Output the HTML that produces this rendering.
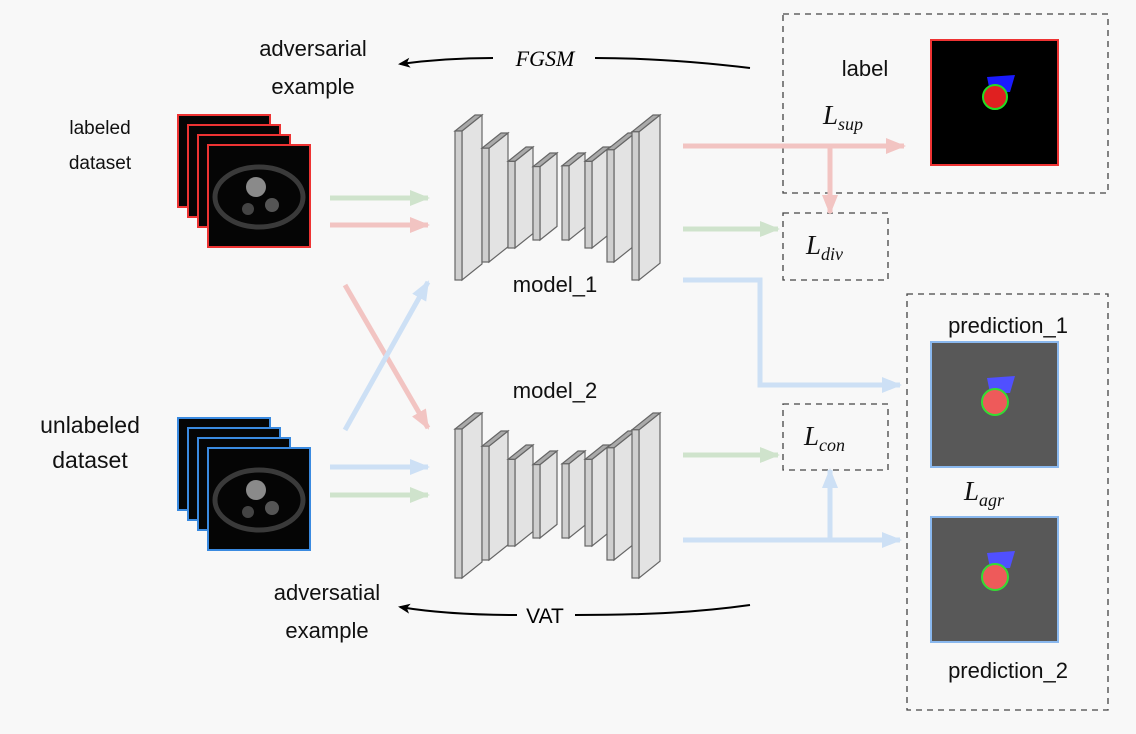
<!DOCTYPE html>
<html><head><meta charset="utf-8"><style>
body{margin:0;background:#f8f8f8;}
svg{display:block;font-family:"Liberation Sans",sans-serif;}
</style></head><body>
<svg id="s" width="1136" height="734" viewBox="0 0 1136 734" xmlns="http://www.w3.org/2000/svg">
<defs>
<marker id="ag" markerWidth="22" markerHeight="22" refX="18" refY="11" orient="auto" markerUnits="userSpaceOnUse" viewBox="0 0 22 22"><path d="M0,3 L20,11 L0,19 z" fill="#cfe3cc"/></marker>
<marker id="ar" markerWidth="22" markerHeight="22" refX="18" refY="11" orient="auto" markerUnits="userSpaceOnUse" viewBox="0 0 22 22"><path d="M0,3 L20,11 L0,19 z" fill="#f2c4c2"/></marker>
<marker id="ab" markerWidth="22" markerHeight="22" refX="18" refY="11" orient="auto" markerUnits="userSpaceOnUse" viewBox="0 0 22 22"><path d="M0,3 L20,11 L0,19 z" fill="#cde0f5"/></marker>
<marker id="ak" markerWidth="12" markerHeight="12" refX="10" refY="6" orient="auto" markerUnits="userSpaceOnUse" viewBox="0 0 12 12"><path d="M0,1 L12,6 L0,11 L3,6 z" fill="#000"/></marker>
</defs>
<rect width="1136" height="734" fill="#f8f8f8"/>

<g fill="none" stroke="#444" stroke-width="1.3" stroke-dasharray="6,5">
<rect x="783" y="14" width="325" height="179"/>
<rect x="783" y="213" width="105" height="67"/>
<rect x="783" y="404" width="105" height="66"/>
<rect x="907" y="294" width="201" height="416"/>
</g>

<g stroke-width="5" fill="none">
<line x1="330" y1="198" x2="428" y2="198" stroke="#cfe3cc" marker-end="url(#ag)"/>
<line x1="330" y1="225" x2="428" y2="225" stroke="#f2c4c2" marker-end="url(#ar)"/>
<line x1="330" y1="467" x2="428" y2="467" stroke="#cde0f5" marker-end="url(#ab)"/>
<line x1="330" y1="495" x2="428" y2="495" stroke="#cfe3cc" marker-end="url(#ag)"/>
<line x1="345" y1="285" x2="428" y2="428" stroke="#f2c4c2" marker-end="url(#ar)"/>
<line x1="345" y1="430" x2="428" y2="282" stroke="#cde0f5" marker-end="url(#ab)"/>
<line x1="683" y1="146" x2="904" y2="146" stroke="#f2c4c2" marker-end="url(#ar)"/>
<line x1="830" y1="146" x2="830" y2="213" stroke="#f2c4c2" marker-end="url(#ar)"/>
<line x1="683" y1="229" x2="778" y2="229" stroke="#cfe3cc" marker-end="url(#ag)"/>
<polyline points="683,280 760,280 760,385 900,385" stroke="#cde0f5" marker-end="url(#ab)"/>
<line x1="683" y1="455" x2="778" y2="455" stroke="#cfe3cc" marker-end="url(#ag)"/>
<line x1="683" y1="540" x2="900" y2="540" stroke="#cde0f5" marker-end="url(#ab)"/>
<line x1="830" y1="540" x2="830" y2="470" stroke="#cde0f5" marker-end="url(#ab)"/>
</g>

<path d="M750,68 C700,62 650,58 595,58 M493,58 C460,58 430,60 400,64" stroke="#000" stroke-width="2" fill="none" marker-end="url(#ak)"/>
<path d="M750,605 C700,612 650,615 575,615 M517,615 C470,615 430,612 400,607" stroke="#000" stroke-width="2" fill="none" marker-end="url(#ak)"/>
<text x="545" y="66" font-family="Liberation Serif,serif" font-style="italic" font-size="22" text-anchor="middle">FGSM</text>
<text x="545" y="623" font-size="21" text-anchor="middle">VAT</text>

<g font-size="22" fill="#111" text-anchor="middle">
<text x="313" y="56">adversarial</text>
<text x="313" y="94">example</text>
<text x="327" y="600">adversatial</text>
<text x="327" y="638">example</text>
<text x="555" y="292">model_1</text>
<text x="555" y="398">model_2</text>
<text x="1008" y="333">prediction_1</text>
<text x="1008" y="678">prediction_2</text>
<text x="865" y="76">label</text>
<text x="90" y="433" font-size="23">unlabeled</text>
<text x="90" y="468" font-size="23">dataset</text>
<text x="100" y="134" font-size="19">labeled</text>
<text x="100" y="169" font-size="19">dataset</text>
</g>
<g font-family="Liberation Serif,serif" font-style="italic" fill="#111">
<text x="823" y="124" font-size="27">L<tspan font-size="18" dy="6">sup</tspan></text>
<text x="806" y="254" font-size="27">L<tspan font-size="18" dy="6">div</tspan></text>
<text x="804" y="445" font-size="27">L<tspan font-size="18" dy="6">con</tspan></text>
<text x="964" y="500" font-size="27">L<tspan font-size="18" dy="6">agr</tspan></text>
</g>

<g>
<rect x="931" y="40" width="127" height="125" fill="#000" stroke="#e33" stroke-width="2"/>
<path d="M987,77 L1015,75 L1010,92 L990,92 z" fill="#1a1aff"/>
<circle cx="995" cy="97" r="12" fill="#e02020" stroke="#2d2" stroke-width="2"/>
<rect x="931" y="342" width="127" height="125" fill="#585858" stroke="#8ab8ee" stroke-width="2"/>
<path d="M987,378 L1015,376 L1010,393 L990,393 z" fill="#5050ff"/>
<circle cx="995" cy="402" r="13" fill="#ee5a5a" stroke="#3d3" stroke-width="2"/>
<rect x="931" y="517" width="127" height="125" fill="#585858" stroke="#8ab8ee" stroke-width="2"/>
<path d="M987,553 L1015,551 L1010,568 L990,568 z" fill="#5050ff"/>
<circle cx="995" cy="577" r="13" fill="#ee5a5a" stroke="#3d3" stroke-width="2"/>
</g>
<g id="stacks"></g>
<g id="models"></g>
</svg>
<script>
var NS="http://www.w3.org/2000/svg";
function el(p,t,a){var e=document.createElementNS(NS,t);for(var k in a)e.setAttribute(k,a[k]);p.appendChild(e);return e;}
var st=document.getElementById('stacks');
function stack(y0,col){
 for(var i=0;i<4;i++){
  var x=178+i*10,y=y0+i*10,w=i==3?102:92,h=i==3?102:92;
  el(st,'rect',{x:x,y:y,width:w,height:h,fill:'#050505',stroke:col,'stroke-width':2});
 }
 var x=208,y=y0+30;
 el(st,'ellipse',{cx:x+51,cy:y+52,rx:44,ry:30,fill:'none',stroke:'#3a3a3a','stroke-width':5});
 el(st,'circle',{cx:x+48,cy:y+42,r:10,fill:'#8a8a8a'});
 el(st,'circle',{cx:x+64,cy:y+60,r:7,fill:'#555'});
 el(st,'circle',{cx:x+40,cy:y+64,r:6,fill:'#444'});
}
stack(115,'#e33');stack(418,'#3a8ae0');
var m=document.getElementById('models');
var L=[[455,482,0,165],[482,508,18,147],[508,533,32,133],[533,557,38,125],[562,585,38,125],[585,610,32,133],[607,635,18,147],[632,660,0,165]];
function model(oy){
 L.forEach(function(l){
  var x0=l[0],x1=l[1],yt=oy+l[2],yb=oy+l[3],fw=7,dx=x1-x0-fw,dy=dx*0.8;
  el(m,'polygon',{points:[x0+fw,yt+dy,x1,yt,x1,yb-dy,x0+fw,yb].join(' '),fill:'#e3e3e3',stroke:'#666','stroke-width':1.2});
  el(m,'polygon',{points:[x0,yt+dy,x0+fw,yt+dy,x1,yt,x1-fw,yt].join(' '),fill:'#aaa',stroke:'#666','stroke-width':1.2});
  el(m,'rect',{x:x0,y:yt+dy,width:fw,height:yb-yt-dy,fill:'#cfcfcf',stroke:'#666','stroke-width':1.2});
 });
}
model(115);model(413);
</script>
</body></html>
